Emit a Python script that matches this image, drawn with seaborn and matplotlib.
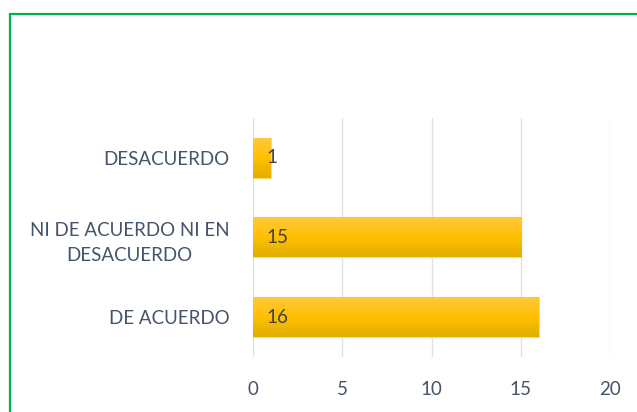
import numpy as np
import matplotlib.pyplot as plt
import matplotlib.patches as mpatches
from matplotlib.colors import LinearSegmentedColormap
import seaborn as sns

categories = ["DESACUERDO", "NI DE ACUERDO NI EN\nDESACUERDO", "DE ACUERDO"]
values = [1, 15, 16]
x_ticks = [0, 5, 10, 15, 20]

sns.set_theme(style="white")
plt.rcParams['font.family'] = ['Lato', 'DejaVu Sans']

fig = plt.figure(figsize=(6.37, 4.12), dpi=100)
ax = fig.add_axes([0.397, 0.1335, 0.561, 0.5805])

sns.barplot(x=values, y=categories, orient="h", color="#ffc000",
            width=0.5, ax=ax, saturation=1)

# gold gradient on each bar
grad = LinearSegmentedColormap.from_list("gold", ["#ffc83c", "#ffc000", "#e2ae00"])
img = np.linspace(0, 1, 100).reshape(-1, 1)
for bar in ax.patches:
    x0, y0 = bar.get_x(), bar.get_y()
    w, h = bar.get_width(), bar.get_height()
    im = ax.imshow(img, cmap=grad, aspect="auto", extent=[x0, x0 + w, y0 + h, y0],
                   zorder=bar.get_zorder() + 0.1)
    im.set_clip_path(bar)
    bar.set_edgecolor("#ffd966")
    bar.set_linewidth(0.8)

ax.set_xlim(0, 20)
ax.set_ylim(2.5, -0.5)
ax.set_xticks(x_ticks)
ax.xaxis.grid(True, color="#dde3ec", linewidth=1)
ax.set_axisbelow(True)
for s in ax.spines.values():
    s.set_visible(False)

ax.tick_params(axis="x", labelsize=13.5, labelcolor="#44546a", pad=17, length=0)
ax.tick_params(axis="y", labelsize=13.5, labelcolor="#44546a", pad=17, length=0)
for lab in ax.get_yticklabels():
    lab.set_multialignment("center")
    lab.set_linespacing(1.6)

for i, v in enumerate(values):
    ax.annotate(str(v), xy=(0, i), xytext=(10, 0), textcoords="offset points",
                ha="left", va="center", fontsize=13.5, color="#404040", zorder=5)

fig.patches.append(mpatches.Rectangle((10 / 637, -0.1), 1.2, 1 - 14 / 412 + 0.1,
                                      transform=fig.transFigure, fill=False,
                                      edgecolor="#00b050", linewidth=1.6))

fig.savefig("out.png", dpi=100)
